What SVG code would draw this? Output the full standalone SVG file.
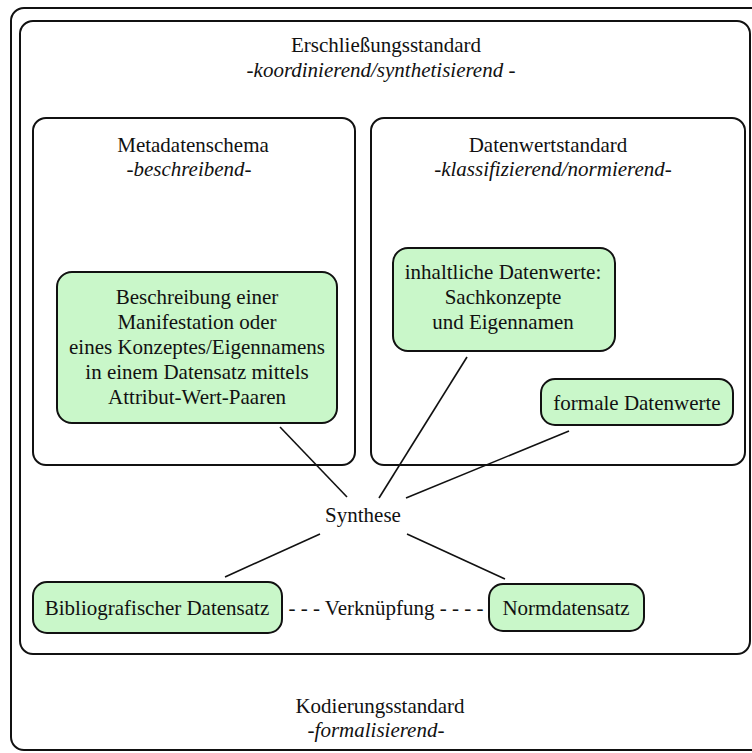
<svg xmlns="http://www.w3.org/2000/svg" width="752" height="753" viewBox="0 0 752 753">
  <style>
    text { font-family: "Liberation Serif", "Times New Roman", serif; font-size: 21px; fill: #111; text-anchor: middle; }
    .it { font-style: italic; }
    .frame { fill: #fff; stroke: #111; stroke-width: 2; }
    .node { fill: #c9f7c9; stroke: #111; stroke-width: 2; }
    .link { stroke: #111; stroke-width: 1.6; fill: none; }
  </style>
  <rect x="0" y="0" width="752" height="753" fill="#fff"/>

  <!-- Kodierungsstandard (outermost frame) -->
  <g id="kodierungsstandard">
    <rect class="frame" x="11" y="8" width="760" height="742" rx="13"/>
    <text x="380" y="713">Kodierungsstandard</text>
    <text class="it" x="376" y="737">-formalisierend-</text>
  </g>

  <!-- Erschließungsstandard -->
  <g id="erschliessungsstandard">
    <rect class="frame" x="20" y="21" width="730" height="633" rx="13"/>
    <text x="386" y="52">Erschließungsstandard</text>
    <text class="it" x="381" y="77">-koordinierend/synthetisierend -</text>
  </g>

  <!-- Metadatenschema -->
  <g id="metadatenschema">
    <rect class="frame" x="33" y="118" width="322" height="347" rx="13"/>
    <text x="193" y="152">Metadatenschema</text>
    <text class="it" x="189" y="176">-beschreibend-</text>
  </g>

  <!-- Datenwertstandard -->
  <g id="datenwertstandard">
    <rect class="frame" x="371" y="118" width="374" height="347" rx="13"/>
    <text x="548" y="152">Datenwertstandard</text>
    <text class="it" x="553" y="176">-klassifizierend/normierend-</text>
  </g>

  <g id="beschreibung">
    <rect class="node" x="57" y="272" width="280" height="151" rx="15"/>
    <text x="197" y="304">Beschreibung einer</text>
    <text x="197" y="329">Manifestation oder</text>
    <text x="197" y="354">eines Konzeptes/Eigennamens</text>
    <text x="197" y="379">in einem Datensatz mittels</text>
    <text x="197" y="404">Attribut-Wert-Paaren</text>
  </g>

  <g id="inhaltliche-datenwerte">
    <rect class="node" x="393" y="248" width="222" height="103" rx="15"/>
    <text x="503" y="279">inhaltliche Datenwerte:</text>
    <text x="503" y="304">Sachkonzepte</text>
    <text x="503" y="329">und Eigennamen</text>
  </g>

  <g id="formale-datenwerte">
    <rect class="node" x="541" y="379" width="192" height="46" rx="14"/>
    <text x="637" y="410">formale Datenwerte</text>
  </g>

  <g id="synthese">
    <text x="363" y="522">Synthese</text>
  </g>

  <g id="bibliografischer-datensatz">
    <rect class="node" x="33" y="582" width="249" height="51" rx="14"/>
    <text x="157" y="615">Bibliografischer Datensatz</text>
  </g>

  <g id="normdatensatz">
    <rect class="node" x="489" y="584" width="155" height="47" rx="14"/>
    <text x="566" y="615">Normdatensatz</text>
  </g>

  <!-- connectors -->
  <g id="connectors">
    <line class="link" x1="280" y1="427" x2="347" y2="497"/>
    <line class="link" x1="467" y1="357" x2="379" y2="498"/>
    <line class="link" x1="569" y1="431" x2="406" y2="498"/>
    <line class="link" x1="320" y1="534" x2="225" y2="577"/>
    <line class="link" x1="407" y1="534" x2="505" y2="579"/>
    <text x="386" y="615">- - - Verknüpfung - - - -</text>
  </g>
</svg>
